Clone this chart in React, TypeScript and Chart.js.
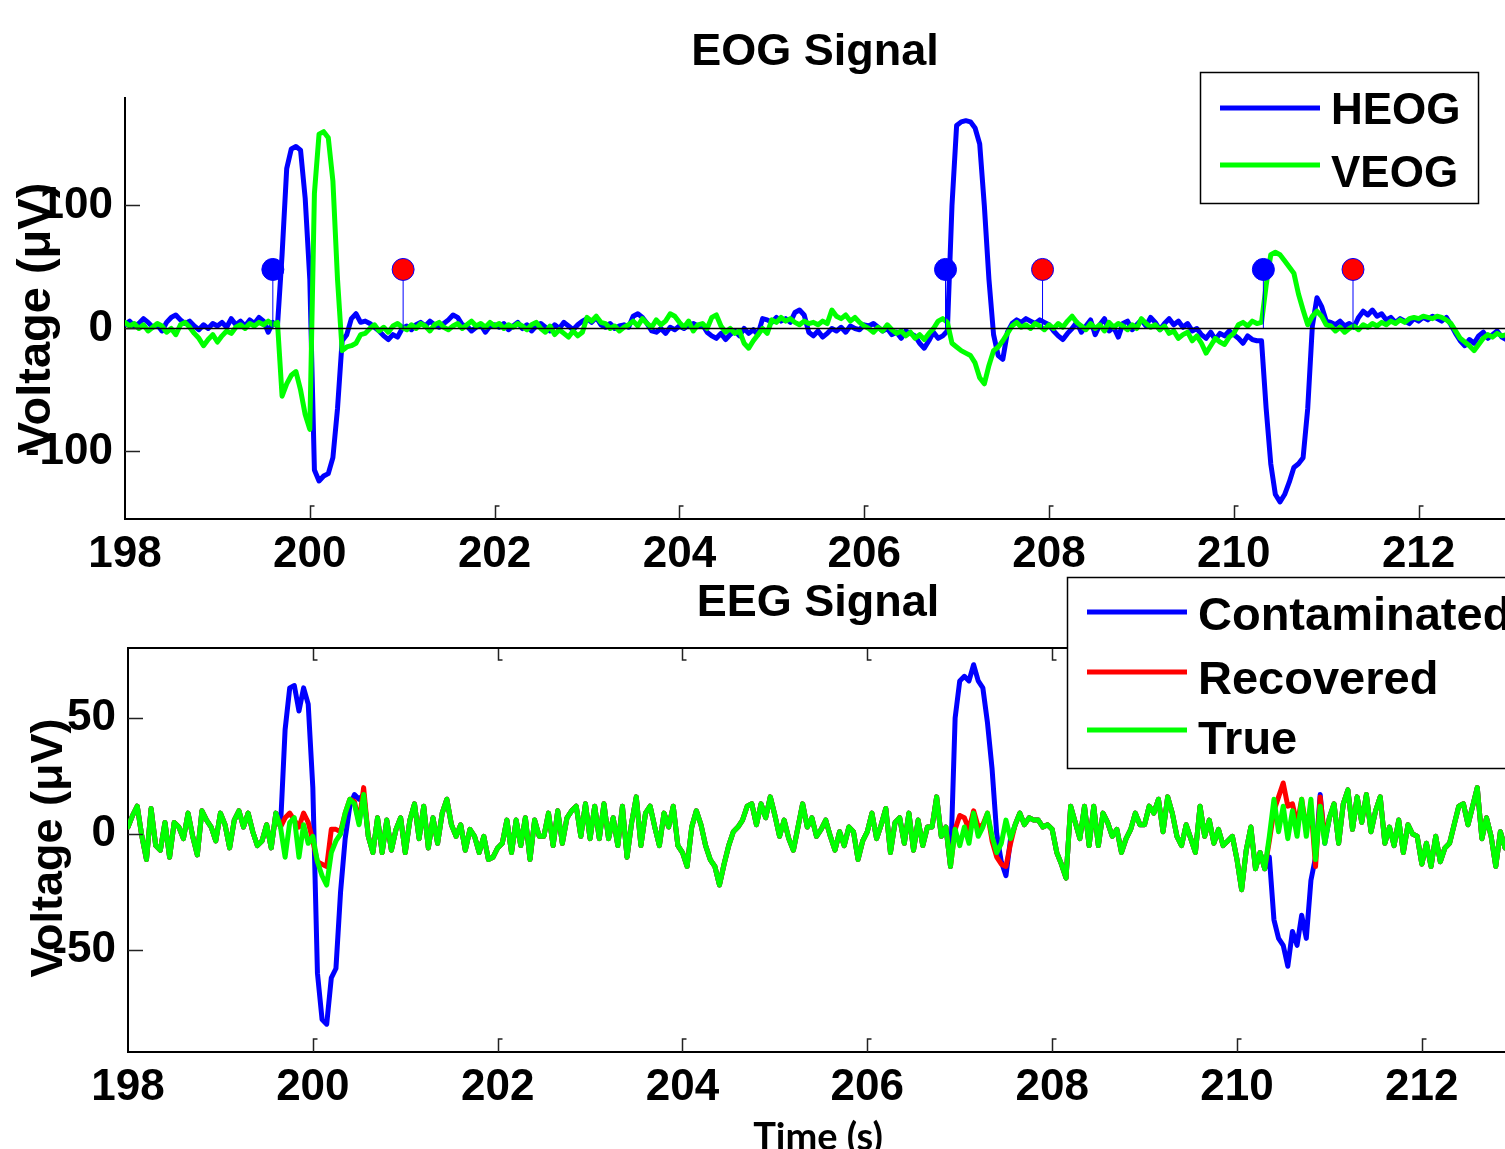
import React, { useEffect, useRef } from "react";
import { Chart, registerables } from "chart.js";
Chart.register(...registerables);

// ---------- data ----------
const T0 = 198; // first sample time (s)
const DT = 0.05; // sample spacing (s)
const X_MIN = 198;
const X_MAX_TOP = 212.935;
const X_MAX_BOTTOM = 212.9;
const X_TICKS = [198, 200, 202, 204, 206, 208, 210, 212];
const EOG_Y_TICKS = [-100, 0, 100];
const EEG_Y_TICKS = [-50, 0, 50];

const HEOG = [
  3, 6, 2, 4, 8, 5, 1, 3, -2, 5,
  9, 11, 7, 4, 6, 2, -1, 3, 0, 4,
  2, 5, 1, 8, 3, 6, 2, 7, 4, 9,
  6, -3, 5, 2, 60, 130, 146, 148, 145, 106,
  40, -115, -124, -120, -118, -105, -65, -10, -5, 8,
  12, 5, 6, 4, 1, -2, -6, -9, -5, -7,
  0, 2, -1, 3, 5, 2, 6, 3, 1, 4,
  7, 11, 9, 3, 2, -2, 1, 3, -3, 2,
  3, 1, 4, -1, 2, 5, 0, 3, -2, 2,
  4, 1, -2, 3, 0, 5, 2, -1, 3, 6,
  8, 5, 9, 3, 1, 4, 0, 2, 3, 1,
  10, 12, 9, 4, -2, -3, 0, -4, 1, -1,
  2, 0, 3, 4, 2, 3, -3, -6, -8, -4,
  -9, -5, -2, -6, 0, -4, -1, -5, 8, 7,
  5, 9, 6, 8, 5, 13, 15, 11, -3, -6,
  -2, -7, -4, 0, -2, 1, -3, 2, 0, -1,
  3, 2, 4, 1, -2, 0, -5, -3, -8, -2,
  -4, -6, -12, -16, -10, -3, -8, -6, -2, 100,
  165, 168, 169, 168, 163, 150, 100, 40, -5, -22,
  -25, -3, 4, 7, 5, 8, 6, 4, 7, 5,
  3, -2, -6, -9, -4, 0, 5, -3, 2, 7,
  -5, 3, 8, -2, 1, -7, 4, 6, -1, 3,
  7, 2, 9, 5, -1, 4, 8, 3, 6, 1,
  4, -2, 0, -5, -8, -3, -9, -4, -6, -2,
  -5, -8, -12, -6, -9, -10, -10, -65, -110, -135,
  -141, -135, -125, -113, -110, -105, -65, 2, 25, 18,
  6, 5, 3, 6, 2, 4, 1, 9, 14, 11,
  15, 10, 12, 7, 9, 5, 8, 6, 4, 8,
  6, 9, 7, 10, 8, 6, 9, 3, -4, -10,
  -14, -9, -12, -6, -3, -8, -5, -2, -7, -9,
];

const VEOG = [
  5, 2, 4, 0, 3, -2, 1, 4, 2, -3,
  0, -5, 3, 5, 1, -4, -8, -14, -9, -5,
  -11, -6, -2, -4, 1, 3, 0, 4, 2, 5,
  3, 6, 3, 5, -55, -45, -38, -35, -50, -70,
  -82, 110, 158, 160, 155, 120, 40, -18, -15, -14,
  -12, -5, -4, 0, 3, -2, 1, -3, 2, 4,
  1, -1, 3, 0, 4, 2, -2, 3, 5, 1,
  -1, 2, 4, 0, 3, 6, 2, 4, 1, 5,
  2, 4, 0, 3, 1, 4, 2, -1, 3, 5,
  0, -3, 2, -5, -1, -4, -7, -2, -6, -3,
  9, 6, 10, 5, 4, 0, 2, -2, 1, 3,
  6, 2, 8, 4, 1, 7, 3, 6, 12, 10,
  5, 1, 6, -2, 3, 4, 0, 9, 11, 2,
  -3, 0, -4, -2, -12, -16, -10, -5, 0, -4,
  7, 5, 9, 6, 8, 5, 3, 6, 4, 5,
  3, 6, 4, 15, 10, 8, 11, 6, 9, 5,
  2, 0, -3, 1, -2, 3, -1, -4, -2, -6,
  -3, -8, -5, -9, -4, 0, 6, 8, 5, -12,
  -15, -18, -20, -22, -28, -40, -45, -30, -18, -15,
  -10, -4, 2, 5, 1, 3, 0, 4, 2, -1,
  3, 0, 4, 1, 6, 10, 5, 2, -1, 4,
  0, 3, -2, 5, 1, 4, 2, -1, 3, 0,
  8, 4, 1, 3, -1, 2, -4, -2, -8, -5,
  -3, -10, -6, -12, -20, -14, -8, -11, -13, -7,
  -4, 3, 5, 2, 6, 4, 5, 35, 60, 62,
  60, 55, 50, 45, 28, 15, 3, 10, 14, 10,
  3, 2, -2, 1, -3, 0, 2, -1, 3, 1,
  4, 2, 5, 3, 6, 4, 7, 5, 8, 9,
  8, 10, 9, 8, 10, 9, 7, 4, -2, -8,
  -11, -14, -18, -13, -8, -5, -7, -4, -6, -5,
];

// detected artifact onsets (blue) and offsets (red)
const ONSET_T = [199.6, 206.88, 210.32];
const OFFSET_T = [201.01, 207.93, 211.29];
const MARKER_V = 48;

const EEG_TRUE = [
  3, 8, 12, -1, -11, 11, -5, -7, 5, -10,
  5, 3, -2, 9, -1, -9, 10, 6, 3, -3,
  9, 4, -6, 6, 10, 3, 9, 1, -5, -3,
  4, -6, 9, 3, -10, 5, 7, -10, 4, -4,
  -1, -12, -18, -22, -8, -3, 0, 9, 15, 13,
  4, 17, -1, -8, 7, -8, 6, -7, 2, 7,
  -8, 6, 13, -2, 12, -6, 7, -4, 9, 15,
  4, -1, 4, -7, 2, -1, -8, -1, -11, -10,
  -6, -4, 6, -8, 6, -5, 7, -11, 6, -1,
  -1, 9, -5, 10, -4, 7, 10, 12, -1, 13,
  -2, 12, -2, 13, -2, 7, -5, 12, -10, 5,
  16, -5, 9, 12, 3, -5, 9, 3, 12, -5,
  -8, -14, 3, 10, 4, -5, -11, -14, -22, -13,
  -5, 1, 3, 6, 12, 13, 4, 13, 7, 16,
  8, -1, 6, -2, -7, 3, 13, 3, 7, -1,
  2, 6, -1, -7, 1, -5, 3, 1, -11, -3,
  1, 9, -2, 4, 11, -8, 5, 7, -4, 9,
  -7, 6, -5, 3, 3, 16, -1, 3, -14, 2,
  -5, 3, -4, 9, -1, 3, 9, -1, -8, -4,
  6, -2, 4, 9, 4, 7, 6, 6, 3, 4,
  2, -8, -13, -19, 12, 5, -2, 12, -5, 12,
  -5, 9, 5, -1, 2, -8, -2, 2, 9, 4,
  4, 12, 9, 15, 1, 16, 9, -1, -5, 4,
  -2, -8, 12, -1, 6, -4, 2, -5, -3, -1,
  -11, -24, -7, 3, -15, -8, -15, -1, 15, 1,
  12, -2, 10, -1, 15, -1, 15, -11, 12, -4,
  7, 13, -4, 13, 19, 2, 16, 5, 17, 1,
  10, 16, -4, 3, -5, 6, -8, 4, 0, -1,
  -13, -4, -14, -1, -12, -6, -4, 4, 12, 13,
  4, 12, 20, -2, 7, -1, -14, 1, -6, 2,
];

const EEG_CONTAMINATED = [
  3, 8, 12, -1, -11, 11, -5, -7, 5, -10,
  5, 3, -2, 9, -1, -9, 10, 6, 3, -3,
  9, 4, -6, 6, 10, 3, 9, 1, -5, -3,
  4, -6, 9, 3, 45, 63, 64, 53, 63, 56,
  20, -60, -80, -82, -62, -58, -25, -2, 12, 17,
  15, 17, -1, -8, 7, -8, 6, -7, 2, 7,
  -8, 6, 13, -2, 12, -6, 7, -4, 9, 15,
  4, -1, 4, -7, 2, -1, -8, -1, -11, -10,
  -6, -4, 6, -8, 6, -5, 7, -11, 6, -1,
  -1, 9, -5, 10, -4, 7, 10, 12, -1, 13,
  -2, 12, -2, 13, -2, 7, -5, 12, -10, 5,
  16, -5, 9, 12, 3, -5, 9, 3, 12, -5,
  -8, -14, 3, 10, 4, -5, -11, -14, -22, -13,
  -5, 1, 3, 6, 12, 13, 4, 13, 7, 16,
  8, -1, 6, -2, -7, 3, 13, 3, 7, -1,
  2, 6, -1, -7, 1, -5, 3, 1, -11, -3,
  1, 9, -2, 4, 11, -8, 5, 7, -4, 9,
  -7, 6, -5, 3, 3, 16, -1, 3, -14, 50,
  66, 68, 66, 73, 66, 63, 48, 28, 0, -12,
  -18, -2, 4, 9, 4, 7, 6, 6, 3, 4,
  2, -8, -13, -19, 12, 5, -2, 12, -5, 12,
  -5, 9, 5, -1, 2, -8, -2, 2, 9, 4,
  4, 12, 9, 15, 1, 16, 9, -1, -5, 4,
  -2, -8, 12, -1, 6, -4, 2, -5, -3, -1,
  -11, -24, -7, 3, -15, -8, -15, -10, -37, -45,
  -48, -57, -42, -48, -35, -45, -20, -10, 17, -4,
  7, 13, -4, 13, 19, 2, 16, 5, 17, 1,
  10, 16, -4, 3, -5, 6, -8, 4, 0, -1,
  -13, -4, -14, -1, -12, -6, -4, 4, 12, 13,
  4, 12, 20, -2, 7, -1, -14, 1, -6, 2,
];

const EEG_RECOVERED = [
  3, 8, 12, -1, -11, 11, -5, -7, 5, -10,
  5, 3, -2, 9, -1, -9, 10, 6, 3, -3,
  9, 4, -6, 6, 10, 3, 9, 1, -5, -3,
  4, -6, 9, 3, 7, 9, 6, 3, 9, 5,
  -3, -12, -13, -14, 2, 2, 1, 9, 15, 14,
  5, 20, -1, -8, 7, -8, 6, -7, 2, 7,
  -8, 6, 13, -2, 12, -6, 7, -4, 9, 15,
  4, -1, 4, -7, 2, -1, -8, -1, -11, -10,
  -6, -4, 6, -8, 6, -5, 7, -11, 6, -1,
  -1, 9, -5, 10, -4, 7, 10, 12, -1, 13,
  -2, 12, -2, 13, -2, 7, -5, 12, -10, 5,
  16, -5, 9, 12, 3, -5, 9, 3, 12, -5,
  -8, -14, 3, 10, 4, -5, -11, -14, -22, -13,
  -5, 1, 3, 6, 12, 13, 4, 13, 7, 16,
  8, -1, 6, -2, -7, 3, 13, 3, 7, -1,
  2, 6, -1, -7, 1, -5, 3, 1, -11, -3,
  1, 9, -2, 4, 11, -8, 5, 7, -4, 9,
  -7, 6, -5, 3, 3, 16, -1, 3, -14, 2,
  8, 7, 2, 10, 3, 4, 9, -3, -10, -13,
  -14, -4, 4, 9, 4, 7, 6, 6, 3, 4,
  2, -8, -13, -19, 12, 5, -2, 12, -5, 12,
  -5, 9, 5, -1, 2, -8, -2, 2, 9, 4,
  4, 12, 9, 15, 1, 16, 9, -1, -5, 4,
  -2, -8, 12, -1, 6, -4, 2, -5, -3, -1,
  -11, -24, -7, 3, -15, -8, -15, -3, 10, 16,
  22, 12, 13, 4, 15, 2, 12, -14, 16, -2,
  7, 13, -4, 13, 19, 2, 16, 5, 17, 1,
  10, 16, -4, 3, -5, 6, -8, 4, 0, -1,
  -13, -4, -14, -1, -12, -6, -4, 4, 12, 13,
  4, 12, 20, -2, 7, -1, -14, 1, -6, 2,
];

// ---------- styling ----------
const W = 1505;
const H = 1149;
const FONT = "'Liberation Sans', Arial, Helvetica, sans-serif";
const BLUE = "#0000ff";
const GREEN = "#00ff00";
const RED = "#ff0000";
const LW = 5;

function series(values: number[]) {
  return values.map((v, i) => ({ x: Math.round((T0 + i * DT) * 100) / 100, y: v }));
}

function stemPoints() {
  const ts = [...ONSET_T, ...OFFSET_T].sort((a, b) => a - b);
  const out: any[] = [];
  ts.forEach((t) => {
    out.push({ x: t, y: 0 }, { x: t, y: MARKER_V }, { x: t, y: null });
  });
  return out;
}

function xScale(max: number) {
  return {
    type: "linear",
    min: X_MIN,
    max,
    afterBuildTicks: (s: any) => {
      s.ticks = X_TICKS.map((v) => ({ value: v }));
    },
    afterFit: (s: any) => {
      s.height = 60;
    },
    grid: { display: true, drawOnChartArea: false, drawTicks: false, color: "rgba(0,0,0,0)" },
    border: { display: true, color: "#000", width: 2 },
    ticks: {
      color: "#000",
      font: { family: FONT, size: 44, weight: "bold" },
      padding: 9,
      maxRotation: 0,
      autoSkip: false,
      callback: (v: any) => String(v),
    },
  };
}

function yScale(min: number, max: number, ticks: number[], width: number, pad: number) {
  return {
    type: "linear",
    min,
    max,
    afterBuildTicks: (s: any) => {
      s.ticks = ticks.map((v) => ({ value: v }));
    },
    afterFit: (s: any) => {
      s.width = width;
    },
    grid: { display: true, drawOnChartArea: false, drawTicks: false, color: "rgba(0,0,0,0)" },
    border: { display: true, color: "#000", width: 2 },
    ticks: {
      color: "#000",
      font: { family: FONT, size: 44, weight: "bold" },
      padding: pad,
      autoSkip: false,
      callback: (v: any) => String(v),
    },
  };
}

function line(label: string, data: any[], color: string, order: number) {
  return {
    label,
    data,
    borderColor: color,
    backgroundColor: color,
    borderWidth: LW,
    pointRadius: 0,
    tension: 0,
    borderJoinStyle: "round",
    borderCapStyle: "round",
    order,
  };
}

function decorPlugin(cfg: {
  yTicks: number[];
  topBox: boolean;
  title: string;
  titleX: number;
  titleBase: number;
  yLabelX: number;
  yLabelY: number;
  yLabelSize: number;
  legend: {
    box: [number, number, number, number];
    lineX: [number, number];
    lineY: number[];
    textX: number;
    textBase: number[];
    fontSize: number;
  };
  legendCount: number;
  xLabel?: boolean;
}) {
  return {
    id: "decor",
    afterDatasetsDraw(chart: any) {
      const { ctx, chartArea: a, scales } = chart;
      const xs = scales.x;
      const ys = scales.y;
      ctx.save();
      ctx.strokeStyle = "#222";
      ctx.lineWidth = 1.5;
      ctx.beginPath();
      X_TICKS.forEach((v) => {
        if (v === X_MIN) return;
        const px = Math.round(xs.getPixelForValue(v)) + 0.5;
        ctx.moveTo(px, a.bottom);
        ctx.lineTo(px, a.bottom - 13);
        ctx.lineTo(px + 4, a.bottom - 13);
        if (cfg.topBox) {
          ctx.moveTo(px, a.top);
          ctx.lineTo(px, a.top + 12);
          ctx.lineTo(px + 4, a.top + 12);
        }
      });
      cfg.yTicks.forEach((v) => {
        const py = Math.round(ys.getPixelForValue(v)) + 0.5;
        ctx.moveTo(a.left, py);
        ctx.lineTo(a.left + 15, py);
      });
      ctx.stroke();
      if (cfg.topBox) {
        ctx.strokeStyle = "#000";
        ctx.lineWidth = 2;
        ctx.beginPath();
        ctx.moveTo(a.left, a.top);
        ctx.lineTo(a.right, a.top);
        ctx.stroke();
      }
      ctx.restore();
    },
    afterDraw(chart: any) {
      const { ctx } = chart;
      ctx.save();
      ctx.fillStyle = "#000";
      ctx.font = `bold 45px ${FONT}`;
      ctx.textAlign = "center";
      ctx.textBaseline = "alphabetic";
      ctx.fillText(cfg.title, cfg.titleX, cfg.titleBase);

      // y axis label
      ctx.save();
      ctx.translate(cfg.yLabelX, cfg.yLabelY);
      ctx.rotate(-Math.PI / 2);
      ctx.font = `bold ${cfg.yLabelSize}px ${FONT}`;
      ctx.textAlign = "center";
      ctx.fillText("Voltage (\u03bcV)", 0, 0);
      ctx.restore();

      if (cfg.xLabel) {
        ctx.font = `bold 38px Lato, 'Open Sans', ${FONT}`;
        ctx.textAlign = "center";
        ctx.fillText("Time (s)", 818, 1150);
      }

      // legend
      const L = cfg.legend;
      const [bx, by, bw, bh] = L.box;
      ctx.fillStyle = "#fff";
      ctx.fillRect(bx, by, bw, bh);
      ctx.strokeStyle = "#000";
      ctx.lineWidth = 1.5;
      ctx.strokeRect(bx + 0.5, by + 0.5, bw, bh);
      const ds = chart.data.datasets.slice(0, cfg.legendCount);
      ds.forEach((d: any, i: number) => {
        ctx.strokeStyle = d.borderColor;
        ctx.lineWidth = LW;
        ctx.beginPath();
        ctx.moveTo(L.lineX[0], L.lineY[i]);
        ctx.lineTo(L.lineX[1], L.lineY[i]);
        ctx.stroke();
        ctx.fillStyle = "#000";
        ctx.font = `bold ${L.fontSize}px ${FONT}`;
        ctx.textAlign = "left";
        ctx.fillText(d.label, L.textX, L.textBase[i]);
      });
      ctx.restore();
    },
  };
}

export default function App() {
  const topRef = useRef<HTMLCanvasElement>(null);
  const botRef = useRef<HTMLCanvasElement>(null);

  useEffect(() => {
    const top = new Chart(topRef.current as HTMLCanvasElement, {
      type: "line",
      data: {
        datasets: [
          line("HEOG", series(HEOG), BLUE, 5),
          line("VEOG", series(VEOG), GREEN, 4),
          {
            label: "stems",
            data: stemPoints(),
            borderColor: BLUE,
            borderWidth: 1,
            pointRadius: 0,
            spanGaps: false,
            order: 3,
          },
          {
            label: "zero",
            data: [
              { x: X_MIN, y: 0 },
              { x: X_MAX_TOP, y: 0 },
            ],
            borderColor: "#000",
            borderWidth: 1.5,
            pointRadius: 0,
            order: 2,
          },
          {
            label: "onset",
            data: ONSET_T.map((t) => ({ x: t, y: MARKER_V })),
            showLine: false,
            pointRadius: 11,
            pointBackgroundColor: BLUE,
            pointBorderColor: BLUE,
            pointBorderWidth: 1,
            order: 1,
          },
          {
            label: "offset",
            data: OFFSET_T.map((t) => ({ x: t, y: MARKER_V })),
            showLine: false,
            pointRadius: 11,
            pointBackgroundColor: RED,
            pointBorderColor: BLUE,
            pointBorderWidth: 1,
            order: 0,
          },
        ] as any,
      },
      options: {
        responsive: false,
        animation: false,
        events: [],
        layout: { autoPadding: false, padding: { top: 98, left: 0, right: 0, bottom: 570 } },
        plugins: { legend: { display: false }, tooltip: { enabled: false } },
        scales: {
          x: xScale(X_MAX_TOP),
          y: yScale(-154.9, 187.4, EOG_Y_TICKS, 125, 12),
        } as any,
      } as any,
      plugins: [
        decorPlugin({
          yTicks: EOG_Y_TICKS,
          topBox: false,
          title: "EOG Signal",
          titleX: 815,
          titleBase: 65,
          yLabelX: 50,
          yLabelY: 318,
          yLabelSize: 47,
          legend: {
            box: [1200, 72, 278, 131],
            lineX: [1220, 1320],
            lineY: [108, 165],
            textX: 1331,
            textBase: [124, 187],
            fontSize: 44,
          },
          legendCount: 2,
        }) as any,
      ],
    });

    const bottom = new Chart(botRef.current as HTMLCanvasElement, {
      type: "line",
      data: {
        datasets: [
          line("Contaminated", series(EEG_CONTAMINATED), BLUE, 3),
          line("Recovered", series(EEG_RECOVERED), RED, 2),
          line("True", series(EEG_TRUE), GREEN, 1),
        ] as any,
      },
      options: {
        responsive: false,
        animation: false,
        events: [],
        layout: { autoPadding: false, padding: { top: 648, left: 0, right: 0, bottom: 37 } },
        plugins: { legend: { display: false }, tooltip: { enabled: false } },
        scales: {
          x: xScale(X_MAX_BOTTOM),
          y: yScale(-94.0, 80.2, EEG_Y_TICKS, 128, 12),
        } as any,
      } as any,
      plugins: [
        decorPlugin({
          yTicks: EEG_Y_TICKS,
          topBox: true,
          title: "EEG Signal",
          titleX: 818,
          titleBase: 616,
          yLabelX: 62,
          yLabelY: 848,
          yLabelSize: 45,
          legend: {
            box: [1067, 577, 460, 191],
            lineX: [1087, 1187],
            lineY: [612, 672, 730],
            textX: 1198,
            textBase: [630, 694, 754],
            fontSize: 47,
          },
          legendCount: 3,
          xLabel: true,
        }) as any,
      ],
    });

    return () => {
      top.destroy();
      bottom.destroy();
    };
  }, []);

  return (
    <div
      style={{
        position: "absolute",
        left: 0,
        top: 0,
        width: W,
        height: H,
        overflow: "hidden",
        background: "#fff",
      }}
    >
      <canvas ref={topRef} width={W} height={H} style={{ position: "absolute", left: 0, top: 0 }} />
      <canvas ref={botRef} width={W} height={H} style={{ position: "absolute", left: 0, top: 0 }} />
    </div>
  );
}
